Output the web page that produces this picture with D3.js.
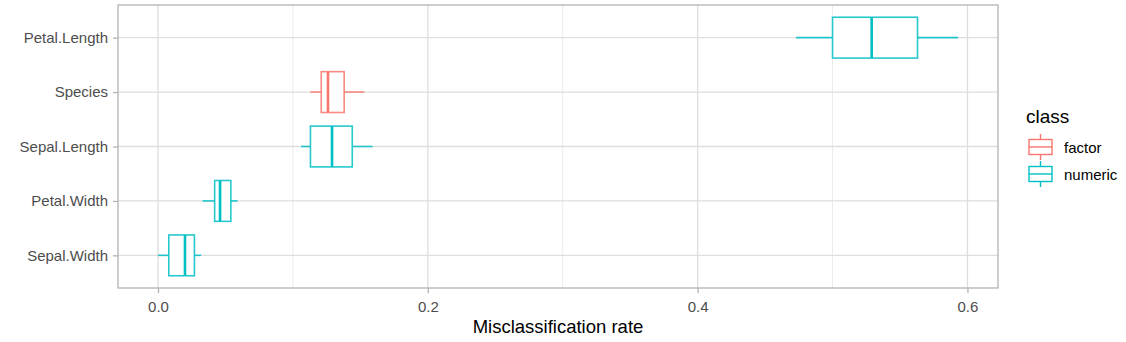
<!DOCTYPE html>
<html>
<head>
<meta charset="utf-8">
<script src="https://cdn.jsdelivr.net/npm/d3@7"></script>
<style>
  html, body { margin: 0; padding: 0; background: #fff; }
  svg { display: block; font-family: "Liberation Sans", Arial, sans-serif; }
</style>
</head>
<body>
<script>
// variables, top to bottom
var variables = ['Petal.Length', 'Species', 'Sepal.Length', 'Petal.Width', 'Sepal.Width'];
var classOf = ['numeric', 'factor', 'numeric', 'numeric', 'numeric'];
// box statistics (misclassification rate)
var whiskerLow = [0.473, 0.113, 0.106, 0.033, 0.000];
var q1 = [0.500, 0.121, 0.113, 0.042, 0.008];
var median = [0.529, 0.126, 0.129, 0.046, 0.020];
var q3 = [0.563, 0.138, 0.144, 0.054, 0.027];
var whiskerHigh = [0.593, 0.153, 0.159, 0.059, 0.032];

var majorTicks = [0, 0.2, 0.4, 0.6];
var minorTicks = [0.1, 0.3, 0.5];
var legendClasses = ['factor', 'numeric'];
var classColors = ['#F8766D', '#00BFC4'];

var W = 1126, H = 342;
var margin = { top: 5, right: 128, bottom: 54, left: 118 };

var svg = d3.select('body').append('svg')
  .attr('width', W)
  .attr('height', H);

var color = d3.scaleOrdinal().domain(legendClasses).range(classColors);

// ggplot style 5% expansion
var lo = d3.min(whiskerLow), hi = d3.max(whiskerHigh);
var pad = (hi - lo) * 0.05;
var x = d3.scaleLinear()
  .domain([lo - pad, hi + pad])
  .range([margin.left, W - margin.right]);

var y = d3.scalePoint()
  .domain(variables)
  .range([margin.top, H - margin.bottom])
  .padding(0.6);

var boxH = y.step() * 0.75;

// gridlines
var grid = svg.append('g');
grid.selectAll('.minor')
  .data(minorTicks)
  .enter().append('line')
    .attr('x1', function (d) { return x(d); })
    .attr('x2', function (d) { return x(d); })
    .attr('y1', margin.top)
    .attr('y2', H - margin.bottom)
    .attr('stroke', '#EBEBEB')
    .attr('stroke-width', 1);
grid.selectAll('.major')
  .data(majorTicks)
  .enter().append('line')
    .attr('x1', function (d) { return x(d); })
    .attr('x2', function (d) { return x(d); })
    .attr('y1', margin.top)
    .attr('y2', H - margin.bottom)
    .attr('stroke', '#DEDEDE')
    .attr('stroke-width', 1.3);
grid.selectAll('.hmajor')
  .data(variables)
  .enter().append('line')
    .attr('x1', margin.left)
    .attr('x2', W - margin.right)
    .attr('y1', function (d) { return y(d); })
    .attr('y2', function (d) { return y(d); })
    .attr('stroke', '#DEDEDE')
    .attr('stroke-width', 1.3);

// boxplots
var rows = variables.map(function (v, i) {
  return { name: v, cls: classOf[i], lo: whiskerLow[i], q1: q1[i], med: median[i], q3: q3[i], hi: whiskerHigh[i] };
});

var box = svg.selectAll('.box')
  .data(rows)
  .enter().append('g')
  .attr('class', 'box');

box.append('line')
  .attr('x1', function (d) { return x(d.lo); })
  .attr('x2', function (d) { return x(d.q1); })
  .attr('y1', function (d) { return y(d.name); })
  .attr('y2', function (d) { return y(d.name); });
box.append('line')
  .attr('x1', function (d) { return x(d.q3); })
  .attr('x2', function (d) { return x(d.hi); })
  .attr('y1', function (d) { return y(d.name); })
  .attr('y2', function (d) { return y(d.name); });
box.append('rect')
  .attr('x', function (d) { return x(d.q1); })
  .attr('width', function (d) { return x(d.q3) - x(d.q1); })
  .attr('y', function (d) { return y(d.name) - boxH / 2; })
  .attr('height', boxH)
  .attr('fill', '#fff');
box.append('line')
  .attr('class', 'med')
  .attr('x1', function (d) { return x(d.med); })
  .attr('x2', function (d) { return x(d.med); })
  .attr('y1', function (d) { return y(d.name) - boxH / 2; })
  .attr('y2', function (d) { return y(d.name) + boxH / 2; });
box.selectAll('line, rect')
  .attr('stroke', function () { return color(d3.select(this.parentNode).datum().cls); })
  .attr('stroke-width', 1.6)
  .attr('stroke-opacity', 0.85);
box.selectAll('.med')
  .attr('stroke-width', 2.6)
  .attr('stroke-opacity', 1);

// panel border
svg.append('rect')
  .attr('x', margin.left)
  .attr('y', margin.top)
  .attr('width', W - margin.right - margin.left)
  .attr('height', H - margin.bottom - margin.top)
  .attr('fill', 'none')
  .attr('stroke', '#B3B3B3')
  .attr('stroke-width', 1.3);

// axes
var xAxis = svg.append('g')
  .attr('transform', 'translate(0,' + (H - margin.bottom) + ')')
  .call(d3.axisBottom(x).tickValues(majorTicks).tickFormat(d3.format('.1f')).tickSize(5).tickPadding(8));
var yAxis = svg.append('g')
  .attr('transform', 'translate(' + margin.left + ',0)')
  .call(d3.axisLeft(y).tickSize(5).tickPadding(5));
[xAxis, yAxis].forEach(function (a) {
  a.select('.domain').remove();
  a.selectAll('line').attr('stroke', '#B3B3B3').attr('stroke-width', 1.3);
  a.selectAll('text')
    .attr('fill', '#4D4D4D')
    .style('font-size', '15px')
    .style('font-family', '"Liberation Sans", Arial, sans-serif');
});

svg.append('text')
  .attr('x', (margin.left + W - margin.right) / 2)
  .attr('y', 333)
  .attr('text-anchor', 'middle')
  .style('font-size', '18.5px')
  .attr('fill', '#000')
  .text('Misclassification rate');

// legend
var legend = svg.append('g').attr('transform', 'translate(1026,0)');
legend.append('text')
  .attr('x', 0)
  .attr('y', 123)
  .style('font-size', '19px')
  .text('class');

var keys = legend.selectAll('.key')
  .data(legendClasses)
  .enter().append('g')
  .attr('transform', function (d, i) { return 'translate(0,' + (147 + i * 27) + ')'; });
keys.append('line')
  .attr('x1', 14.5).attr('x2', 14.5).attr('y1', -13).attr('y2', 13);
keys.append('rect')
  .attr('x', 3).attr('y', -7.5).attr('width', 23).attr('height', 15)
  .attr('fill', '#fff');
keys.append('line')
  .attr('x1', 3).attr('x2', 26).attr('y1', 0).attr('y2', 0);
keys.selectAll('line, rect')
  .attr('stroke', function () { return color(d3.select(this.parentNode).datum()); })
  .attr('stroke-width', 1.4);
keys.append('text')
  .attr('x', 38)
  .attr('y', 5.5)
  .style('font-size', '15px')
  .text(function (d) { return d; });
</script>
</body>
</html>
